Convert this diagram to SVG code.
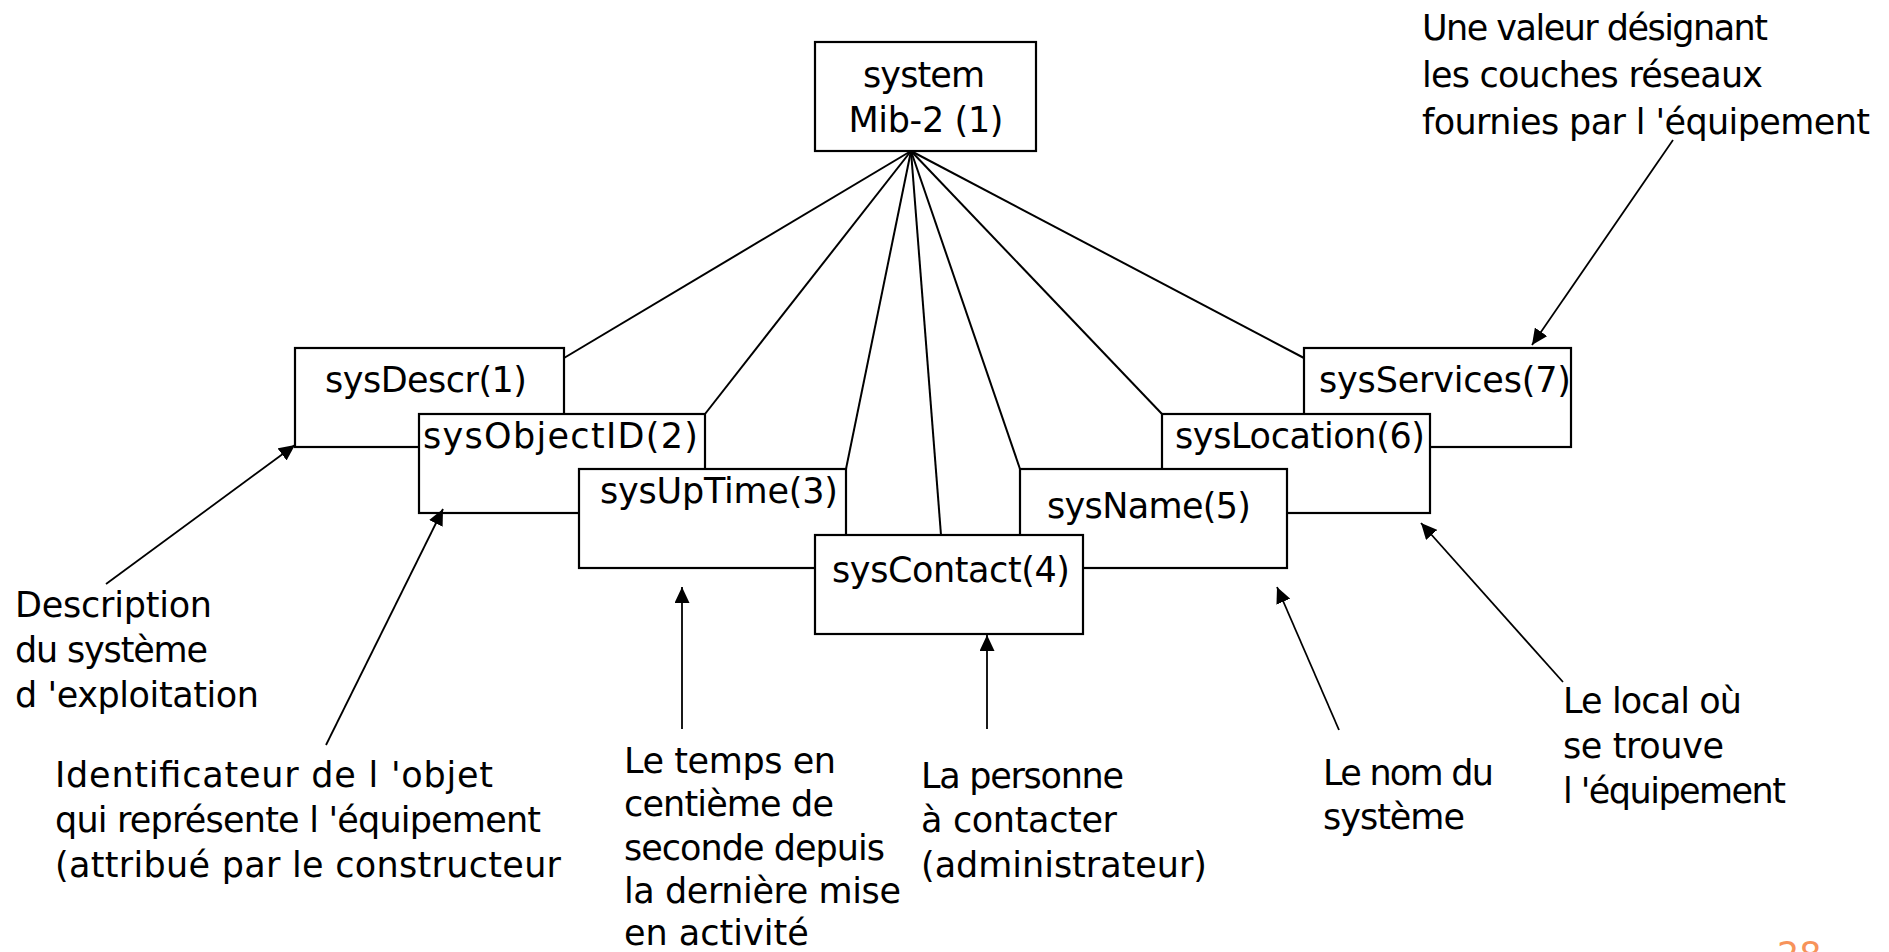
<svg xmlns="http://www.w3.org/2000/svg" width="1889" height="952" viewBox="0 0 1889 952">
  <style>
    .box { fill: #ffffff; stroke: #000000; stroke-width: 2.2; }
    .link { stroke: #000000; stroke-width: 2; fill: none; }
    .ptr { stroke: #000000; stroke-width: 1.8; fill: none; marker-end: url(#tip); }
    text { font-family: "DejaVu Sans", "Liberation Sans", sans-serif; font-size: 35px; fill: #000000; }
    .num { fill: #F7935A; }
  </style>
  <defs>
    <marker id="tip" viewBox="0 0 16 15" refX="16" refY="7.5" markerWidth="16" markerHeight="15" markerUnits="userSpaceOnUse" orient="auto">
      <path d="M0,0 L16,7.5 L0,15 z" fill="#000000"/>
    </marker>
  </defs>

  <rect width="1889" height="952" fill="#ffffff"/>

  <!-- tree links from the system node to its children -->
  <g id="links">
    <line class="link" x1="911" y1="151" x2="564" y2="358"/>
    <line class="link" x1="911" y1="151" x2="705" y2="414"/>
    <line class="link" x1="911" y1="151" x2="846" y2="469"/>
    <line class="link" x1="911" y1="151" x2="941" y2="535"/>
    <line class="link" x1="911" y1="151" x2="1020" y2="469"/>
    <line class="link" x1="911" y1="151" x2="1162" y2="414"/>
    <line class="link" x1="911" y1="151" x2="1304" y2="358"/>
  </g>

  <g id="system">
    <rect class="box" x="815" y="42" width="221" height="109"/>
    <text x="924" y="87" text-anchor="middle" textLength="122" lengthAdjust="spacing">system</text>
    <text x="926" y="132" text-anchor="middle" textLength="155" lengthAdjust="spacing">Mib-2 (1)</text>
  </g>

  <g id="sysDescr">
    <rect class="box" x="295" y="348" width="269" height="99"/>
    <text x="325" y="392" textLength="202" lengthAdjust="spacing">sysDescr(1)</text>
  </g>
  <g id="sysObjectID">
    <rect class="box" x="419" y="414" width="286" height="99"/>
    <text x="423" y="448" textLength="275" lengthAdjust="spacing">sysObjectID(2)</text>
  </g>
  <g id="sysUpTime">
    <rect class="box" x="579" y="469" width="267" height="99"/>
    <text x="600" y="503" textLength="238" lengthAdjust="spacing">sysUpTime(3)</text>
  </g>
  <g id="sysServices">
    <rect class="box" x="1304" y="348" width="267" height="99"/>
    <text x="1319" y="392" textLength="252" lengthAdjust="spacing">sysServices(7)</text>
  </g>
  <g id="sysLocation">
    <rect class="box" x="1162" y="414" width="268" height="99"/>
    <text x="1175" y="448" textLength="250" lengthAdjust="spacing">sysLocation(6)</text>
  </g>
  <g id="sysName">
    <rect class="box" x="1020" y="469" width="267" height="99"/>
    <text x="1047" y="518" textLength="204" lengthAdjust="spacing">sysName(5)</text>
  </g>
  <g id="sysContact">
    <rect class="box" x="815" y="535" width="268" height="99"/>
    <text x="832" y="582" textLength="238" lengthAdjust="spacing">sysContact(4)</text>
  </g>

  <!-- callout pointers from the notes to the objects -->
  <g id="callouts">
    <line class="ptr" x1="106" y1="584" x2="295" y2="445"/>
    <line class="ptr" x1="326" y1="745" x2="443" y2="509"/>
    <line class="ptr" x1="682" y1="729" x2="682" y2="587"/>
    <line class="ptr" x1="987" y1="729" x2="987" y2="635"/>
    <line class="ptr" x1="1339" y1="730" x2="1277" y2="587"/>
    <line class="ptr" x1="1563" y1="682" x2="1421" y2="523"/>
    <line class="ptr" x1="1673" y1="140" x2="1532" y2="345"/>
  </g>

  <g id="note-descr">
    <text x="15" y="617" textLength="197" lengthAdjust="spacing">Description</text>
    <text x="15" y="662" textLength="193" lengthAdjust="spacing">du système</text>
    <text x="15" y="707" textLength="244" lengthAdjust="spacing">d 'exploitation</text>
  </g>
  <g id="note-objectid">
    <text x="55" y="787" textLength="438" lengthAdjust="spacing">Identificateur de l 'objet</text>
    <text x="55" y="832" textLength="486" lengthAdjust="spacing">qui représente l 'équipement</text>
    <text x="55" y="877" textLength="506" lengthAdjust="spacing">(attribué par le constructeur</text>
  </g>
  <g id="note-uptime">
    <text x="624" y="773" textLength="212" lengthAdjust="spacing">Le temps en</text>
    <text x="624" y="816" textLength="210" lengthAdjust="spacing">centième de</text>
    <text x="624" y="860" textLength="261" lengthAdjust="spacing">seconde depuis</text>
    <text x="624" y="903" textLength="277" lengthAdjust="spacing">la dernière mise</text>
    <text x="624" y="945">en activité</text>
  </g>
  <g id="note-contact">
    <text x="921" y="788" textLength="203" lengthAdjust="spacing">La personne</text>
    <text x="921" y="832" textLength="196" lengthAdjust="spacing">à contacter</text>
    <text x="921" y="877" textLength="286" lengthAdjust="spacing">(administrateur)</text>
  </g>
  <g id="note-name">
    <text x="1323" y="785" textLength="171" lengthAdjust="spacing">Le nom du</text>
    <text x="1323" y="829" textLength="142" lengthAdjust="spacing">système</text>
  </g>
  <g id="note-location">
    <text x="1563" y="713" textLength="179" lengthAdjust="spacing">Le local où</text>
    <text x="1563" y="758" textLength="161" lengthAdjust="spacing">se trouve</text>
    <text x="1563" y="803" textLength="223" lengthAdjust="spacing">l 'équipement</text>
  </g>
  <g id="note-services">
    <text x="1422" y="40" textLength="346" lengthAdjust="spacing">Une valeur désignant</text>
    <text x="1422" y="87" textLength="341" lengthAdjust="spacing">les couches réseaux</text>
    <text x="1422" y="134" textLength="448" lengthAdjust="spacing">fournies par l 'équipement</text>
  </g>

  <!-- slide number, partly below the bottom edge -->
  <text class="num" x="1777" y="967" font-size="34">28</text>
</svg>
